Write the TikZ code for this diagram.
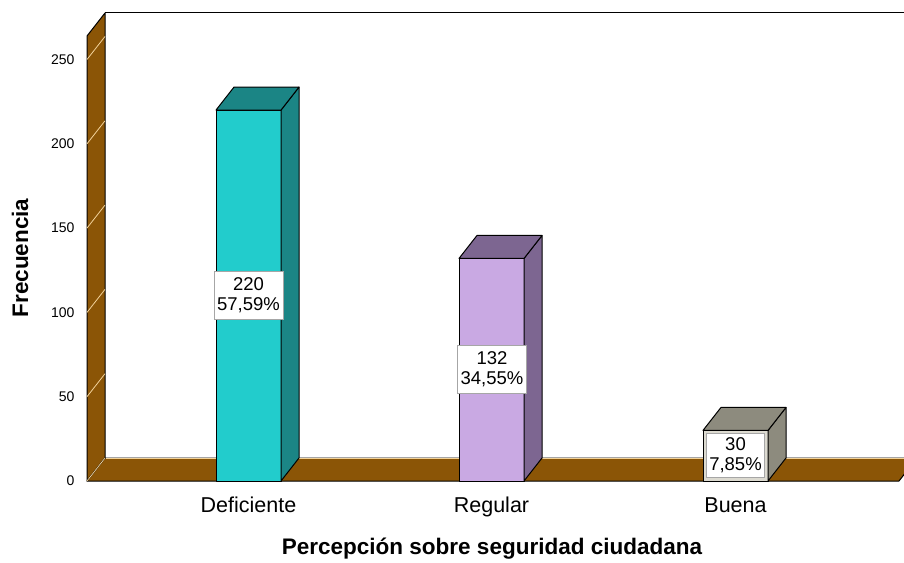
\documentclass[tikz,border=0pt]{standalone}
\usepackage{fontspec}
\setmainfont{Liberation Sans}
\definecolor{wallbrown}{HTML}{8B5506}
\definecolor{gridpale}{HTML}{F2D29A}
\definecolor{defront}{HTML}{22CCCC}
\definecolor{deside}{HTML}{1B8585}
\definecolor{regfront}{HTML}{C9A9E3}
\definecolor{regside}{HTML}{7D6691}
\definecolor{buefront}{HTML}{DCDAD0}
\definecolor{bueside}{HTML}{8D8B7E}

\begin{document}
\begin{tikzpicture}[x=1pt, y=1pt,
    face/.style={draw=black, line width=1pt, line join=round},
    valbox/.style={fill=white, draw=gray!70, line width=0.6pt, align=center,
      inner sep=1pt, minimum height=48pt, font=\fontsize{18.5}{20}\selectfont},
    tick/.style={anchor=east, font=\fontsize{14}{16}\selectfont},
    catlabel/.style={anchor=base, font=\fontsize{21.5}{24}\selectfont},
    axtitle/.style={font=\fontsize{22.5}{26}\selectfont\bfseries}
  ]
  \def\u{1.686}
  \clip (-87,-81) rectangle (817,481);
  \fill[white] (-87,-81) rectangle (817,481);

  % left wall and floor
  \draw[face, fill=wallbrown] (0,0) -- (0,445) -- (18,468) -- (18,23) -- cycle;
  \draw[face, fill=wallbrown] (0,0) -- (812,0) -- (830,23) -- (18,23) -- cycle;
  \draw[line width=1pt] (18,468) -- (830,468);
  \draw[gridpale, line width=0.8pt] (18.5,23) -- (830,23);
  \foreach \v in {0,50,...,250}{
    \draw[gridpale, line width=0.8pt] (0,{\v*\u}) -- (18,{\v*\u+23});
    \node[tick] (t\v) at (-9,{\v*\u}) {\v};
  }

  % bars
  \foreach \x/\v/\fc/\sc in {129/220/defront/deside, 372/132/regfront/regside, 616/30/buefront/bueside}{
    \draw[face, fill=\fc] (\x,0) rectangle ({\x+65},{\v*\u});
    \draw[face, fill=\sc] ({\x+65},0) -- ({\x+83},23) -- ({\x+83},{\v*\u+23})
      -- ({\x+65},{\v*\u}) -- cycle;
    \draw[face, fill=\sc] (\x,{\v*\u}) -- ({\x+18},{\v*\u+23}) -- ({\x+83},{\v*\u+23})
      -- ({\x+65},{\v*\u}) -- cycle;
  }

  % value labels
  \node[valbox, minimum width=69pt] (vdef) at (161.5,{110*\u}) {220\\57,59\%};
  \node[valbox, minimum width=69pt] (vreg) at (405,{66*\u}) {132\\34,55\%};
  \node[valbox, minimum width=58pt, minimum height=44pt] (vbue) at (648.5,26) {30\\7,85\%};

  % categories and titles
  \node[catlabel] (cdef) at (161.5,-31) {Deficiente};
  \node[catlabel] (creg) at (404.5,-31) {Regular};
  \node[catlabel] (cbue) at (648.5,-31) {Buena};
  \node[axtitle] (xtitle) at (405,-68) {Percepción sobre seguridad ciudadana};
  \node[axtitle, rotate=90] (ytitle) at (-67,223) {Frecuencia};
\end{tikzpicture}
\end{document}
